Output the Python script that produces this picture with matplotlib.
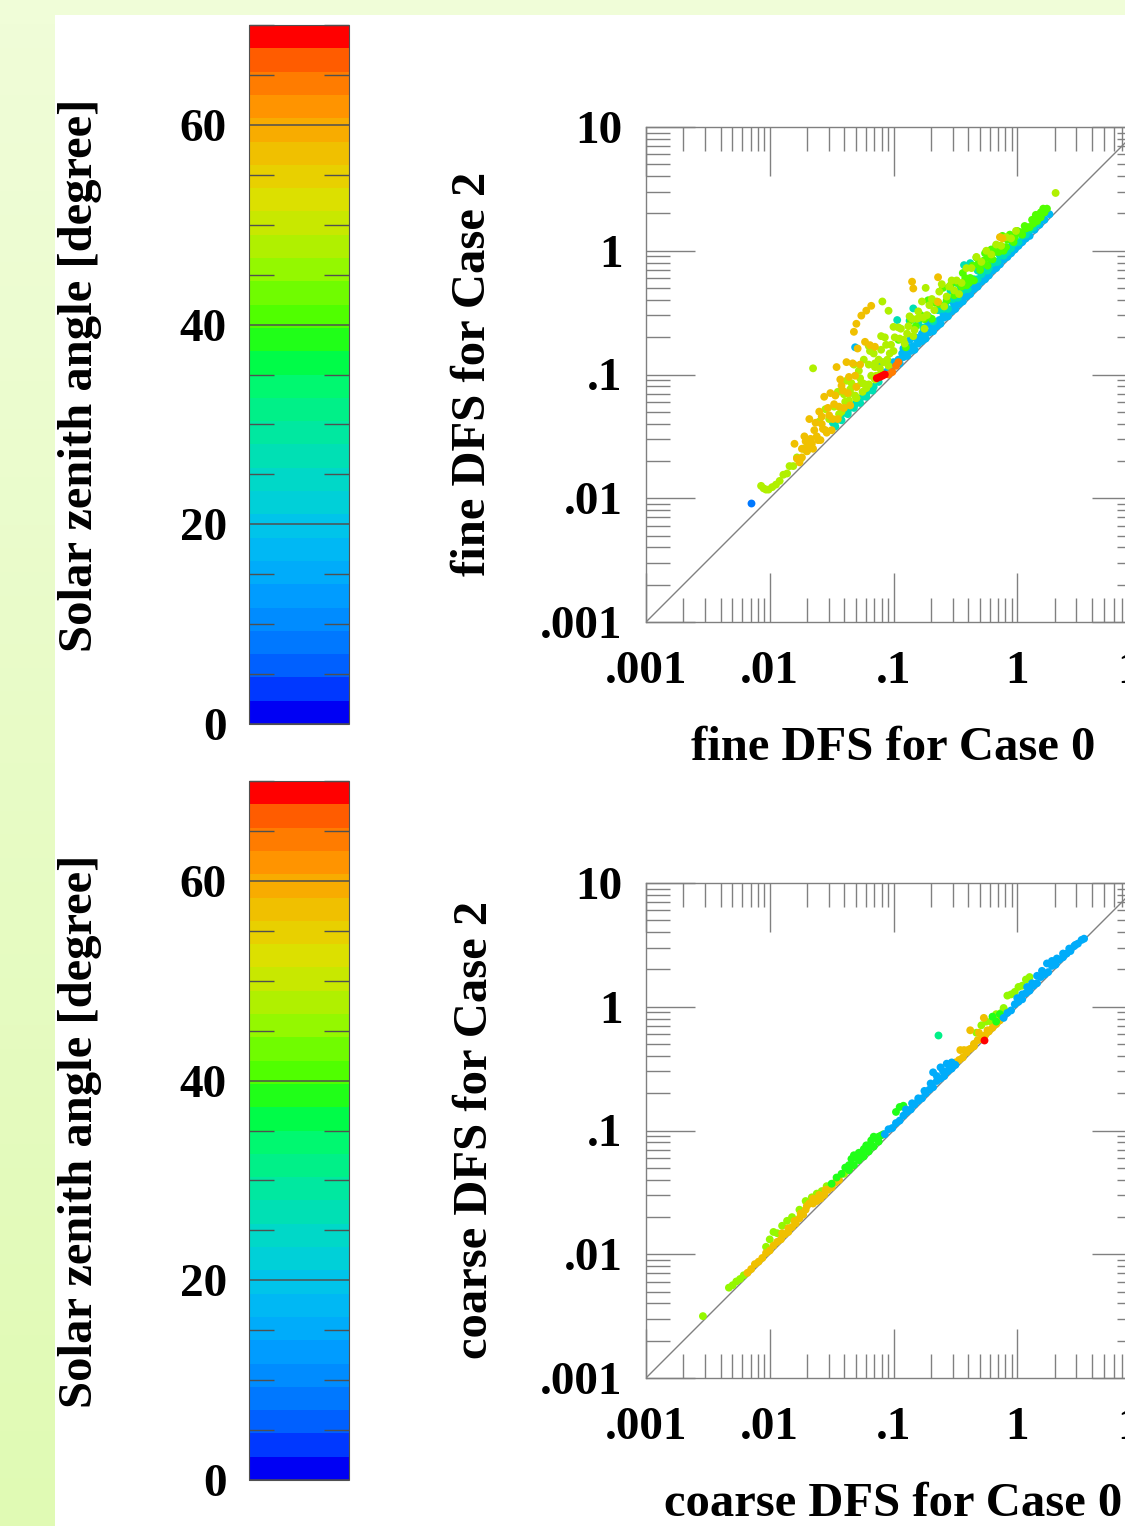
'''
DFS scatter plots, Case 0 against Case 2, coloured by solar zenith angle.
Values are log10 DFS for Case 0 and the log10 offset above the 1:1 line.
'''

import matplotlib
matplotlib.use("Agg")
import matplotlib.pyplot as plt
from matplotlib.cm import ScalarMappable
from matplotlib.colors import ListedColormap, Normalize, LinearSegmentedColormap
import numpy as np

W, H = 1125, 1526

# Colour bar levels, bottom to top
levels = ["#0000f4", "#0038ff", "#0060ff", "#0078ff", "#008cff", "#009cff",
          "#00acfa", "#00b8f4", "#00c4ea", "#00d0d8", "#00d8c8", "#00e0b4",
          "#00e8a0", "#00f088", "#00f870", "#00fc48", "#20ff18", "#50ff00",
          "#70fc00", "#94f800", "#b0f000", "#c8e800", "#dce000", "#e8d000",
          "#f0c000", "#f8ac00", "#ff9400", "#ff7c00", "#ff5c00", "#ff0000"]

ticks = [0, 20, 40, 60]
log_ticks = [-3, -2, -1, 0, 1]
log_labels = [".001", ".01", ".1", "1", "10"]

# Fine mode points
fine_blue_sza = 9
fine_blue_x = [-2.15]
fine_blue_d = [.11]

fine_orange_sza = 58
fine_orange_x = [-1.80, -1.76, -1.74, -1.72, -1.70, -1.68, -1.67, -1.65, -1.63, -1.62, -1.60, -1.59,
                 -1.58, -1.56, -1.55, -1.53, -1.51, -1.50, -1.47, -1.46, -1.44, -1.43, -1.41, -1.38,
                 -1.36, -1.33, -1.31, -1.29, -1.32, -1.30, -1.26, -1.22, -1.18, -1.19, -1.23, -1.15,
                 -.85, -.84, -.64, -.64, -.14, -.12,
                 -1.78, -1.74, -1.71, -1.69, -1.66, -1.64, -1.61, -1.58, -1.57, -1.54, -1.52, -1.49,
                 -1.48, -1.45, -1.42, -1.40, -1.37, -1.35, -1.30, -1.27]
fine_orange_d = [.24, .05, .14, .22, .08, .32, .15, .05, .24, .12, .30, .06,
                 .18, .38, .10, .26, .36, .05, .30, .52, .18, .39, .28, .48,
                 .34, .42, .30, .50, .665, .71, .736, .736, .735, .427, .494, .374,
                 .60, .535, .426, .226, .25, .22,
                 .10, .07, .17, .12, .10, .19, .08, .24, .13, .07, .19, .13,
                 .24, .09, .33, .13, .22, .10, .20, .35]

fine_lime_sza = 48
fine_lime_x = [-2.07, -2.05, -2.03, -2.01, -1.98, -1.95, -1.92, -1.89, -1.86, -1.84, -1.81, -1.78,
               -1.75, -1.73, -1.70, -1.65, -1.60, -1.55, -1.52, -1.48, -1.45, -1.42, -1.40, -1.38,
               -1.36, -1.34, -1.32, -1.30, -1.28, -1.26, -1.24, -1.22, -1.20, -1.18, -1.16, -1.14,
               -1.12, -1.10, -1.08, -1.06, -1.04, -1.02, -1.00, -1.35, -1.30, -1.25, -1.20, -1.15,
               -1.10, -1.05, -1.09, -1.04, -1.00, -.74, .31, -.96, -.92, -.88, -.84, -.80, -.76,
               -1.44, -1.39, -1.35, -1.31, -1.27, -1.23, -1.19, -1.15, -1.11, -1.07, -1.03, -.99,
               -.95, -.91, -.87, -.83, -.79, -.75, -.71, -.67, -.63, -.59, -.55, -.51, -.47,
               -1.30, -1.25, -1.20, -1.15, -1.10,
               -.94, -.89, -.85, -.81, -.77, -.73, -.69, -.65, -.61, -.57, -.53, -.49,
               -.45, -.41, -.37, -.33, -.29, -.25, -.21, -.17, -.13, -.09, -.05, -.01]
fine_lime_d = [.17, .13, .10, .08, .07, .06, .06, .08, .06, .10, .07, .11,
               .07, .13, .08, .70, .22, .27, .16, .22, .31, .12, .24, .33,
               .15, .27, .40, .11, .31, .19, .36, .11, .28, .17, .33, .13,
               .24, .41, .18, .30, .11, .26, .385, .20, .20, .18, .43, .24,
               .30, .17, .68, .555, .19, .44, .157, .34, .20, .27, .15, .31, .22,
               .12, .17, .23, .14, .24, .15, .38, .21, .16, .37, .20, .29,
               .24, .16, .34, .19, .25, .12, .27, .19, .30, .14, .26, .19, .12,
               .11, .11, .12, .11, .11,
               .31, .22, .30, .26, .36, .21, .30, .24, .34, .20, .29, .25,
               .19, .27, .23, .28, .20, .25, .18, .22, .17, .20, .15, .17]

fine_green_sza = 41
fine_green_x = [-.96, -.90, -.86, -.82, -.78, -.75, -.72, -.69, -.66, -.63, -.60, -.57,
                -.54, -.51, -.48, -.45, -.42, -.39, -.36, -.33, -.30, -.27, -.24, -.21,
                -.18, -.15, -.12, -.09, -.06, -.03, .00, .03, .06, .09, .12, .15, .17, .19, .21,
                -.44, -.41, -.38, -.35, -.32, -.29, -.26, -.23, -.20, -.17, -.14, -.11,
                -.08, -.05, -.02, .01, .04, .07, .10, .13, .16, .19, .22, .24]
fine_green_d = [.24, .12, .30, .21, .26, .197, .32, .14, .24, .20, .30, .17,
                .26, .15, .22, .16, .20, .13, .24, .275, .144, .19, .12, .22,
                .17, .14, .24, .12, .19, .10, .16, .12, .14, .10, .13, .14, .10, .12, .13,
                .26, .13, .16, .11, .21, .18, .24, .17, .13, .21, .18, .11,
                .17, .14, .13, .14, .09, .11, .09, .09, .08, .08, .09, .10]

fine_teal_sza = 26
fine_teal_x = [-1.49, -1.46, -1.43, -1.40, -1.37, -1.34, -1.31, -1.28, -1.25, -1.22, -1.19, -1.16,
               -1.12, -.97, -.84, -.87, -.57, -.54, -.51, -.49, -.46, -.43, -.41, -.38,
               -.35, -.32, -.29, -.26, -.23, -.20, -.17, -.14, -.11, -.08, -.05, -.02,
               .01, .04, .07, .10, .13, .16,
               -.80, -.76, -.72, -.68, -.64, -.60, -.56, -.52, -.48, -.44, -.40, -.36,
               -.32, -.28, -.24, -.20, -.16, -.12, -.08, -.04,
               -1.47, -1.42, -1.37, -1.32, -1.27, -1.22, -1.17]
fine_teal_d = [.10, .09, .08, .09, .07, .08, .07, .08, .07, .06, .07, .06,
               .06, .41, .374, .305, .16, .22, .18, .23, .15, .314, .17, .28,
               .12, .16, .10, .14, .09, .12, .08, .10, .07, .09, .07, .08,
               .06, .08, .06, .07, .06, .06,
               .22, .14, .19, .11, .16, .13, .09, .13, .10, .12, .09, .12,
               .09, .11, .08, .10, .07, .09, .07, .09,
               .05, .05, .05, .05, .04, .04, .04]

fine_cyan_sza = 17
fine_cyan_x = [-1.31, -1.10, -1.06, -1.02, -.98, -.95, -.92, -.89, -.86, -.83, -.80, -.77,
               -.74, -.71, -.68, -.65, -.62, -.59, -.56, -.53, -.50, -.47, -.44, -.41,
               -.38, -.35, -.32, -.29, -.26, -.23, -.20, -.17, -.14, -.11, -.08, -.05,
               -.02, .01, .04, .07, .10, .14, .18, .22, .26,
               -.92, -.87, -.82, -.77, -.72, -.67, -.60, -.52, -.46, -.40, -.34, -.28,
               -1.00, -.96, -.93, -.90, -.87, -.84, -.81, -.78, -.75, -.72, -.69, -.66, -.63,
               -.60, -.57, -.54, -.51, -.48, -.45, -.42, -.39, -.36, -.33, -.30, -.27, -.24, -.21]
fine_cyan_d = [.53, .20, .08, .05, .07, .04, .06, .04, .05, .03, .05, .04,
               .03, .05, .03, .04, .03, .05, .03, .04, .03, .04, .03, .04,
               .03, .04, .03, .04, .03, .03, .04, .03, .03, .04, .03, .03,
               .03, .03, .03, .03, .02, .03, .03, .03, .035,
               .13, .15, .12, .10, .13, .09, .10, .11, .09, .10, .08, .08,
               .10, .08, .10, .07, .09, .07, .09, .07, .08, .06, .08, .06, .07,
               .06, .07, .06, .07, .06, .07, .06, .06, .06, .06, .05, .05, .05, .05]

fine_red_sza = 69
fine_red_x = [-1.135, -1.11, -1.09, -1.07]
fine_red_d = [.105, .09, .08, .07]

fine_deep_orange_sza = 64
fine_deep_orange_x = [-1.04, -1.01, -.98, -.96]
fine_deep_orange_d = [.04, .03, .05, .06]

# Coarse mode points
coarse_lime_sza = 46
coarse_lime_x = [-2.54, -2.33, -2.30, -2.27, -2.24, -2.21, -2.03, -2.00, -1.97, -1.94, -1.90, -1.86, -1.82,
                 -1.76, -1.71, -1.66, -1.62, -1.58, -1.54, -.11, -.08, -.05, -.02, .01, .04, .07, .10,
                 -1.50, -1.45, -1.40, -1.35, -.33, -.29, -.25, -.21, -.17, -.13, -.09]
coarse_lime_d = [.04, .06, .05, .05, .04, .04, .09, .12, .15, .11, .13, .13, .12,
                 .12, .14, .12, .11, .09, .09, .10, .17, .15, .14, .15, .13, .15, .14,
                 .05, .05, .05, .05, .12, .14, .13, .09, .11, .08, .05]

coarse_orange_sza = 56
coarse_orange_x = [-2.18, -2.15, -2.12, -2.09, -2.06, -2.03, -2.00, -1.97, -1.94, -1.91, -1.88, -1.85,
                   -1.82, -1.79, -1.76, -1.73, -1.71, -1.68, -1.65, -1.62, -1.59, -1.56, -1.53, -1.50,
                   -1.47, -1.44, -.46, -.43, -.40, -.38, -.35, -.31, -.27, -.24,
                   -1.90, -1.85, -1.80, -1.75, -1.70, -1.65, -1.60, -1.55,
                   -.50, -.47, -.44, -.41, -.38, -.35, -.32, -.29, -.26, -.23, -.20, -.17, -.14]
coarse_orange_d = [.03, .03, .04, .03, .03, .04, .03, .04, .04, .03, .04, .03,
                   .04, .04, .05, .05, .07, .09, .06, .05, .04, .04, .05, .04,
                   .05, .04, .11, .08, .05, .19, .03, .10, .18, .05,
                   .07, .06, .07, .08, .09, .10, .08, .07,
                   .05, .04, .03, .04, .04, .05, .05, .03, .03, .03, .03, .03, .03]

coarse_green_sza = 38
coarse_green_x = [-1.50, -1.46, -1.42, -1.39, -1.36, -1.34, -1.32, -1.30, -1.28, -1.26, -1.24, -1.22,
                  -1.20, -1.18, -1.16, -1.14, -1.12, -1.10, -1.08, -1.36, -1.32, -1.28, -1.24, -1.20,
                  -1.16, -1.12, -.98, -.95, -.92, -.20, -.17, -.14, -.12]
coarse_green_d = [.07, .08, .07, .09, .08, .11, .12, .08, .10, .07, .09, .10,
                  .08, .10, .11, .08, .07, .06, .05, .04, .04, .04, .03, .03,
                  .03, .03, .13, .14, .12, .12, .05, .08, .04]

coarse_outlier_sza = 31
coarse_outlier_x = [-.64]
coarse_outlier_d = [.41]

coarse_cyan_sza = 16
coarse_cyan_x = [-1.07, -1.04, -1.01, -.98, -.95, -.92, -.89, -.86, -.83, -.80, -.77, -.74,
                 -.71, -.68, -.65, -.62, -.59, -.56, -.53, -.50, -.68, -.62, -.57, -.53,
                 -.11, -.08, -.05, -.02, .01, .04, .07, .10, .13, .16, .19, .22, .25, .28, .31,
                 .34, .37, .40, .43, .46, .49, .52, .54, .24, .28, .32, .37, .42, .47,
                 .00, .04, .08, .12, .16, .20,
                 -.90, -.85, -.80, -.75, -.70, -.65, -.60, -.55]
coarse_cyan_d = [.04, .05, .03, .04, .03, .04, .04, .03, .04, .04, .03, .04,
                 .04, .03, .05, .04, .03, .04, .03, .03, .15, .13, .11, .08,
                 .02, .03, .02, .04, .03, .02, .04, .03, .04, .03, .05, .04, .03, .05, .03,
                 .04, .03, .03, .02, .03, .02, .02, .01, .11, .09, .07, .06, .05, .03,
                 .07, .06, .08, .07, .09, .09,
                 .07, .07, .06, .07, .08, .09, .08, .07]

coarse_dark_sza = 69
coarse_dark_x = [-.27]
coarse_dark_d = [.00]

# Drawn in this order, later groups sit on top
fine_groups = [(fine_cyan_sza, fine_cyan_x, fine_cyan_d),
               (fine_teal_sza, fine_teal_x, fine_teal_d),
               (fine_green_sza, fine_green_x, fine_green_d),
               (fine_lime_sza, fine_lime_x, fine_lime_d),
               (fine_orange_sza, fine_orange_x, fine_orange_d),
               (fine_blue_sza, fine_blue_x, fine_blue_d),
               (fine_deep_orange_sza, fine_deep_orange_x, fine_deep_orange_d),
               (fine_red_sza, fine_red_x, fine_red_d)]
coarse_groups = [(coarse_lime_sza, coarse_lime_x, coarse_lime_d),
                 (coarse_orange_sza, coarse_orange_x, coarse_orange_d),
                 (coarse_green_sza, coarse_green_x, coarse_green_d),
                 (coarse_cyan_sza, coarse_cyan_x, coarse_cyan_d),
                 (coarse_outlier_sza, coarse_outlier_x, coarse_outlier_d),
                 (coarse_dark_sza, coarse_dark_x, coarse_dark_d)]

plt.rcParams["font.family"] = ["Liberation Serif", "DejaVu Serif"]
plt.rcParams["font.weight"] = "bold"
GREY = "#808080"
DARK = "#505050"
FS = 35
TICK_FS = 34

cmap = ListedColormap(levels)
norm = Normalize(0, 70)


def box(left, top, right, bottom):
    return [left / W, 1 - bottom / H, (right - left) / W, (bottom - top) / H]


fig = plt.figure(figsize=(W / 100, H / 100), dpi=100)

# Pale green page behind a white panel
bg = fig.add_axes([0, 0, 1, 1], zorder=-5)
bg_map = LinearSegmentedColormap.from_list("page", ["#f0fdd8", "#e0fab4"])
bg.imshow(np.linspace(0, 1, 64).reshape(-1, 1), cmap=bg_map, aspect="auto", extent=[0, W, H, 0])
bg.fill_between([55, W], 15, H, color="white", lw=0)
bg.set_xlim(0, W)
bg.set_ylim(H, 0)
bg.axis("off")


def colour_bar(top, bottom, label_y):
    cax = fig.add_axes(box(249, top, 349, bottom))
    cb = fig.colorbar(ScalarMappable(norm=norm, cmap=cmap), cax=cax)
    cb.set_ticks(ticks, labels=[str(t) for t in ticks])
    cax.set_yticks(range(0, 71, 5), minor=True)
    cax.tick_params(which="major", left=True, right=True, labelleft=True, labelright=False,
                    direction="in", length=36, width=1.1, color="#505050", pad=16, labelsize=TICK_FS)
    cax.tick_params(which="minor", left=True, right=True, direction="in",
                    length=18, width=1, color="#505050")
    for lab in cax.get_yticklabels():
        lab.set_fontweight("bold")
    cb.outline.set_edgecolor(DARK)
    cb.outline.set_linewidth(0.8)
    fig.text(80 / W, 1 - label_y / H, "Solar zenith angle [degree]", rotation=90,
             ha="center", va="center", fontsize=FS)


def scatter_panel(top, groups, xlab, ylab, ylab_x):
    ax = fig.add_axes(box(646, top, 1141, top + 495))
    ax.plot([1e-3, 10], [1e-3, 10], color=GREY, lw=1, zorder=1)
    for sza, lx, d in groups:
        lx = np.array(lx)
        ly = lx + np.array(d)
        ax.scatter(10 ** lx, 10 ** ly, c=[sza] * len(lx), cmap=cmap, norm=norm,
                   s=32, lw=0, zorder=2)
    ax.set_xscale("log")
    ax.set_yscale("log")
    ax.set_xlim(1e-3, 10)
    ax.set_ylim(1e-3, 10)
    ax.set_xticks([10.0 ** t for t in log_ticks], labels=log_labels)
    ax.set_yticks([10.0 ** t for t in log_ticks], labels=log_labels)
    minor = [m * 10.0 ** t for t in log_ticks[:-1] for m in range(2, 10)]
    ax.set_xticks(minor, minor=True, labels=[])
    ax.set_yticks(minor, minor=True, labels=[])
    ax.tick_params(which="major", top=True, right=True, direction="in", length=35, width=1,
                   color=GREY, labelsize=TICK_FS)
    ax.tick_params(which="minor", top=True, right=True, direction="in", length=17.5, width=1,
                   color=GREY)
    ax.tick_params(axis="x", which="major", pad=21)
    ax.tick_params(axis="y", which="major", pad=17)
    for s in ax.spines.values():
        s.set_edgecolor(GREY)
        s.set_linewidth(1)
    ax.set_xlabel(xlab, fontsize=FS, fontweight="bold", labelpad=24)
    fig.text(ylab_x / W, 1 - (top + 247) / H, ylab, rotation=90, ha="center", va="center", fontsize=FS)


colour_bar(25, 724, 375)
colour_bar(781, 1480, 1131)
scatter_panel(127, fine_groups, "fine DFS for Case 0", "fine DFS for Case 2", 473)
scatter_panel(883, coarse_groups, "coarse DFS for Case 0", "coarse DFS for Case 2", 475)

fig.savefig("out.png", dpi=100)
